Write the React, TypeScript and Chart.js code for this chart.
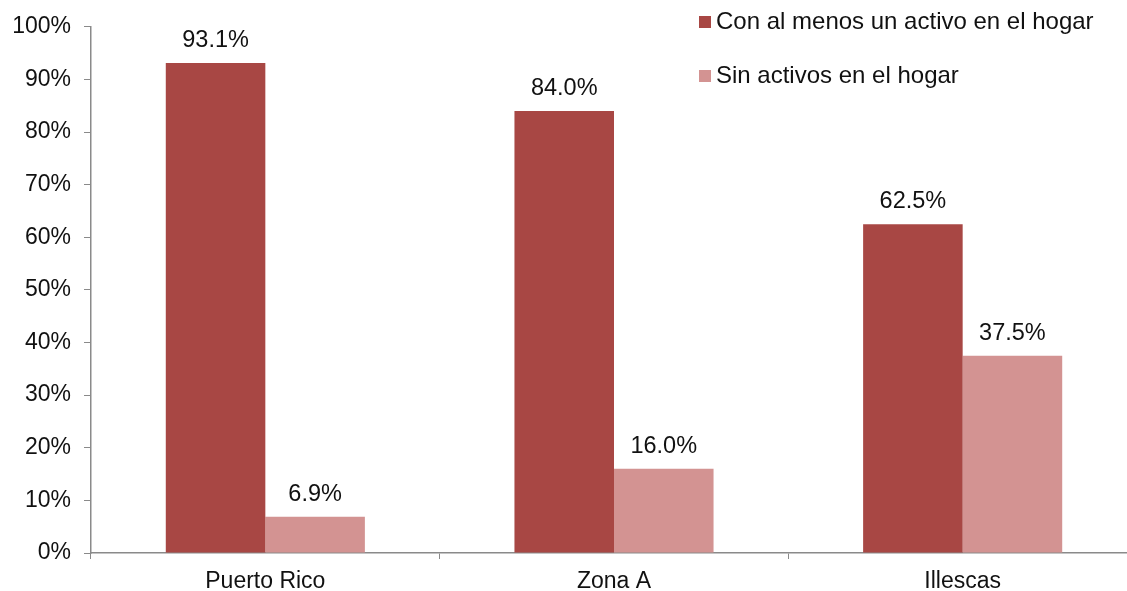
import React, { useEffect, useRef } from "react";
import { Chart, registerables } from "chart.js";

Chart.register(...registerables);

const categories = ["Puerto Rico", "Zona A", "Illescas"];
const seriesNames = ["Con al menos un activo en el hogar", "Sin activos en el hogar"];
const withAssets = [93.1, 84.0, 62.5];
const withoutAssets = [6.9, 16.0, 37.5];
const seriesColors = ["#A84744", "#D39392"];
const yTicks = [0, 10, 20, 30, 40, 50, 60, 70, 80, 90, 100];

const FONT = "'Liberation Sans', Arial, sans-serif";
const FS = 23;
const AXIS = "#8a8a8a";

const valueLabels = {
  id: "valueLabels",
  afterDatasetsDraw(chart: any) {
    const ctx = chart.ctx;
    ctx.save();
    ctx.font = `23.5px ${FONT}`;
    ctx.fillStyle = "#111";
    ctx.textAlign = "center";
    ctx.textBaseline = "alphabetic";
    chart.data.datasets.forEach((ds: any, di: number) => {
      const meta = chart.getDatasetMeta(di);
      meta.data.forEach((bar: any, i: number) => {
        ctx.fillText(Number(ds.data[i]).toFixed(1) + "%", bar.x, bar.y - 16);
      });
    });
    ctx.restore();
  },
};

const legendPlugin = {
  id: "customLegend",
  afterDraw(chart: any) {
    const ctx = chart.ctx;
    ctx.save();
    ctx.font = `24px ${FONT}`;
    ctx.textAlign = "left";
    ctx.textBaseline = "alphabetic";
    const x0 = 699;
    const baseY = 29;
    chart.data.datasets.forEach((ds: any, i: number) => {
      const y = baseY + i * 54;
      ctx.fillStyle = ds.backgroundColor;
      ctx.fillRect(x0, y - 13, 12, 12);
      ctx.fillStyle = "#111";
      ctx.fillText(ds.label, x0 + 17, y);
    });
    ctx.restore();
  },
};

export default function App() {
  const ref = useRef<HTMLCanvasElement>(null);
  useEffect(() => {
    if (!ref.current) return;
    const chart = new Chart(ref.current, {
      type: "bar",
      data: {
        labels: categories,
        datasets: [
          { label: seriesNames[0], data: withAssets, backgroundColor: seriesColors[0], categoryPercentage: 0.571, barPercentage: 1 },
          { label: seriesNames[1], data: withoutAssets, backgroundColor: seriesColors[1], categoryPercentage: 0.571, barPercentage: 1 },
        ],
      },
      options: {
        responsive: false,
        animation: false,
        devicePixelRatio: 1,
        layout: { padding: { top: 24.5, right: 3, bottom: 0, left: 0 } },
        plugins: { legend: { display: false }, tooltip: { enabled: false } },
        scales: {
          x: {
            grid: { display: true, drawOnChartArea: false, drawTicks: true, tickLength: 6, color: AXIS, offset: true },
            border: { display: true, color: AXIS, width: 1.5 },
            ticks: { color: "#111", font: { family: FONT, size: FS }, padding: 9 },
            afterFit(scale: any) { scale.height = 38; },
          },
          y: {
            min: 0,
            max: 100,
            afterBuildTicks(scale: any) { scale.ticks = yTicks.map((v) => ({ value: v })); },
            grid: { display: true, drawOnChartArea: false, drawTicks: true, tickLength: 7, color: AXIS },
            border: { display: true, color: AXIS, width: 1.5 },
            ticks: { color: "#111", font: { family: FONT, size: FS }, padding: 13, callback: (v: any) => v + "%" },
            afterFit(scale: any) { scale.width = 91; },
          },
        },
      },
      plugins: [valueLabels, legendPlugin],
    });
    return () => chart.destroy();
  }, []);
  return (
    <div style={{ position: "fixed", left: 0, top: 0, width: 1127, height: 591, overflow: "hidden", background: "#fff" }}>
      <canvas ref={ref} width={1140} height={591} style={{ width: 1140, height: 591, display: "block" }} />
    </div>
  );
}
